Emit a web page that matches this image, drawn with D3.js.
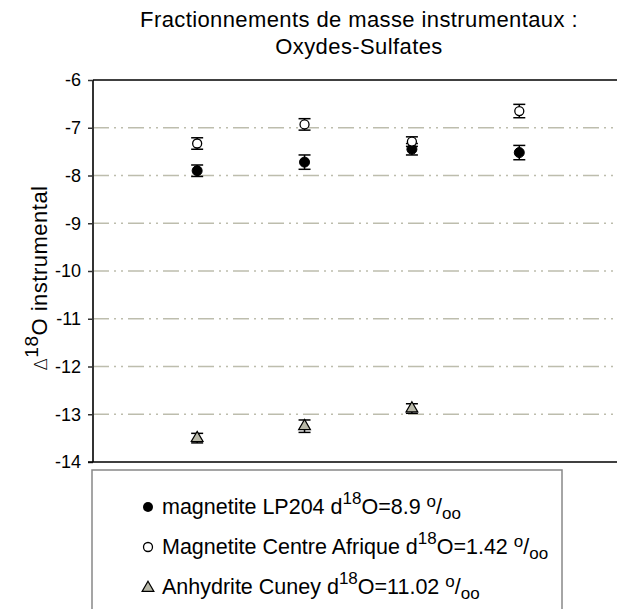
<!DOCTYPE html>
<html lang="fr">
<head>
<meta charset="UTF-8">
<title>Fractionnements de masse instrumentaux</title>
<script src="https://d3js.org/d3.v7.min.js"></script>
<style>
  body { margin: 0; background: #fff; }
  text { font-family: "Liberation Sans", Arial, sans-serif; fill: #000; }
</style>
</head>
<body>
<script>
// donnees
var runs = [1, 2, 3, 4];
var lp204 = [-7.9, -7.72, -7.45, -7.52];
var lp204Err = [0.12, 0.15, 0.12, 0.15];
var centreAfrique = [-7.33, -6.93, -7.29, -6.65];
var centreAfriqueErr = [0.12, 0.12, 0.1, 0.14];
var anhydrite = [-13.5, -13.25, -12.88];
var anhydriteErr = [0.1, 0.13, 0.1];
var yTicks = [-6, -7, -8, -9, -10, -11, -12, -13, -14];

var W = 618, H = 609;
var pLeft = 93, pRight = 617, pTop = 80, pBottom = 462;

var svg = d3.select("body").append("svg")
    .attr("width", W)
    .attr("height", H);

var x = d3.scaleLinear().domain([0.03, 4.91]).range([pLeft, pRight]);
var y = d3.scaleLinear().domain([-14, -6]).range([pBottom, pTop]);

// titre
var title = svg.append("text")
    .attr("text-anchor", "middle")
    .style("font-size", "22px")
    .style("letter-spacing", "0.4px");
title.append("tspan").attr("x", 359).attr("y", 27).text("Fractionnements de masse instrumentaux :");
title.append("tspan").attr("x", 359).attr("y", 54).text("Oxydes-Sulfates");

// grille (tirets-points)
svg.append("g").selectAll("line")
    .data(yTicks.filter(function(d){ return d > -14 && d < -6; }))
    .enter().append("line")
    .attr("x1", pLeft).attr("x2", pRight)
    .attr("y1", function(d){ return y(d); })
    .attr("y2", function(d){ return y(d); })
    .style("stroke", "#bdbdad")
    .style("stroke-width", 1.5)
    .style("stroke-dasharray", "16,5,2,5,2,5");

// axe Y
var yAxis = d3.axisLeft(y).tickValues(yTicks).tickSize(5).tickPadding(7)
    .tickFormat(function(d){ return String(d); });
var gy = svg.append("g").attr("transform", "translate(" + pLeft + ",0)").call(yAxis);
gy.select(".domain").remove();
gy.selectAll(".tick line").style("stroke", "#333").style("stroke-width", 1.5);
gy.selectAll(".tick text").style("font-size", "18px").style("font-family", "Liberation Sans, Arial, sans-serif");

svg.append("line")
    .attr("x1", pLeft).attr("x2", pLeft).attr("y1", pTop).attr("y2", pBottom)
    .style("stroke", "#333").style("stroke-width", 2);
svg.append("line")
    .attr("x1", pLeft).attr("x2", pRight).attr("y1", pTop).attr("y2", pTop)
    .style("stroke", "#000").style("stroke-width", 1.5);
svg.append("line")
    .attr("x1", pLeft - 5).attr("x2", pRight).attr("y1", pBottom).attr("y2", pBottom)
    .style("stroke", "#000").style("stroke-width", 1.5);

// titre de l'axe Y
var yl = svg.append("text")
    .attr("transform", "translate(47,278) rotate(-90)")
    .attr("text-anchor", "middle")
    .style("font-size", "22px")
    .style("letter-spacing", "0.5px");
yl.append("tspan").style("font-size", "18px").style("font-family", "DejaVu Sans, sans-serif").style("font-weight", "200").text("\u0394");
yl.append("tspan").attr("dy", -9).style("font-size", "19px").text("18");
yl.append("tspan").attr("dy", 9).text("O instrumental");

// barres d'erreur
function errorBars(vals, errs) {
    var g = svg.append("g");
    var data = vals.map(function(v, i){ return { x: runs[i], v: v, e: errs[i] }; });
    var cap = 6;
    g.selectAll(".v").data(data).enter().append("line")
        .attr("x1", function(d){ return x(d.x); }).attr("x2", function(d){ return x(d.x); })
        .attr("y1", function(d){ return y(d.v - d.e); }).attr("y2", function(d){ return y(d.v + d.e); })
        .style("stroke", "#000").style("stroke-width", 1.5);
    [1, -1].forEach(function(s){
        g.selectAll(".c" + s).data(data).enter().append("line")
            .attr("x1", function(d){ return x(d.x) - cap; }).attr("x2", function(d){ return x(d.x) + cap; })
            .attr("y1", function(d){ return y(d.v + s * d.e); }).attr("y2", function(d){ return y(d.v + s * d.e); })
            .style("stroke", "#000").style("stroke-width", 1.5);
    });
    return data;
}

var tri = d3.symbol().type(d3.symbolTriangle).size(60);

var d1 = errorBars(lp204, lp204Err);
svg.append("g").selectAll("circle").data(d1).enter().append("circle")
    .attr("cx", function(d){ return x(d.x); }).attr("cy", function(d){ return y(d.v); })
    .attr("r", 5).style("fill", "#000").style("stroke", "#000");

var d2 = errorBars(centreAfrique, centreAfriqueErr);
svg.append("g").selectAll("circle").data(d2).enter().append("circle")
    .attr("cx", function(d){ return x(d.x); }).attr("cy", function(d){ return y(d.v); })
    .attr("r", 4.5).style("fill", "#fff").style("stroke", "#000").style("stroke-width", 1.3);

var d3d = errorBars(anhydrite, anhydriteErr);
svg.append("g").selectAll("path").data(d3d).enter().append("path")
    .attr("d", tri)
    .attr("transform", function(d){ return "translate(" + x(d.x) + "," + y(d.v) + ")"; })
    .style("fill", "#b8b8a8").style("stroke", "#000").style("stroke-width", 1.2);

// legende
var legendItems = [
    { name: "magnetite LP204 d", val: "O=8.9 ", kind: "filled" },
    { name: "Magnetite Centre Afrique d", val: "O=1.42 ", kind: "open" },
    { name: "Anhydrite Cuney d", val: "O=11.02 ", kind: "tri" }
];
svg.append("rect")
    .attr("x", 92).attr("y", 470).attr("width", 470).attr("height", 160)
    .style("fill", "#fff").style("stroke", "#888").style("stroke-width", 1.5);

var lg = svg.append("g").selectAll("g").data(legendItems).enter().append("g")
    .attr("transform", function(d, i){ return "translate(0," + (514 + i * 40) + ")"; });

lg.each(function(d){
    var g = d3.select(this);
    if (d.kind === "filled") {
        g.append("circle").attr("cx", 148).attr("cy", -7).attr("r", 5).style("fill", "#000");
    } else if (d.kind === "open") {
        g.append("circle").attr("cx", 148).attr("cy", -7).attr("r", 4.5)
            .style("fill", "#fff").style("stroke", "#000").style("stroke-width", 1.3);
    } else {
        g.append("path").attr("d", tri).attr("transform", "translate(148,-6)")
            .style("fill", "#b8b8a8").style("stroke", "#000").style("stroke-width", 1.2);
    }
    var t = g.append("text").attr("x", 162).attr("y", 0).style("font-size", "21.5px");
    t.append("tspan").text(d.name);
    t.append("tspan").attr("dy", -10).style("font-size", "17px").text("18");
    t.append("tspan").attr("dy", 10).text(d.val);
    t.append("tspan").attr("dy", -7).style("font-size", "17px").text("o");
    t.append("tspan").attr("dy", 7).text("/");
    t.append("tspan").attr("dy", 5).style("font-size", "17px").text("oo");
});
</script>
</body>
</html>
